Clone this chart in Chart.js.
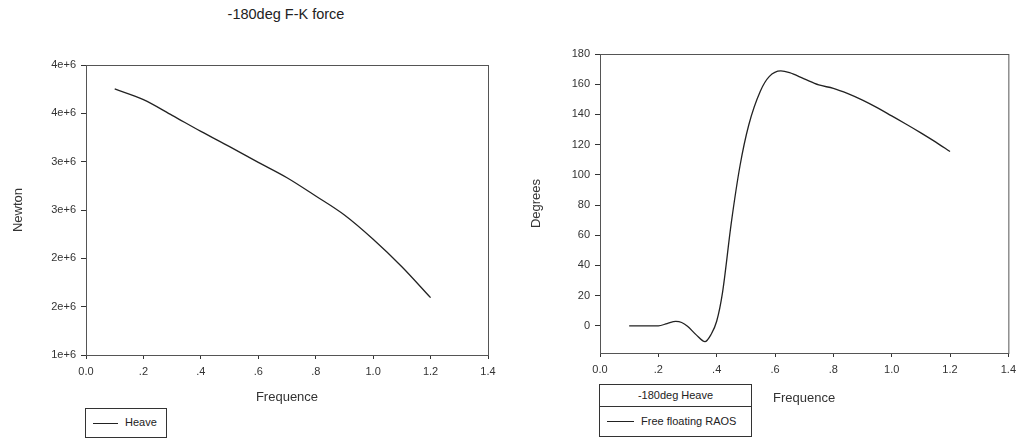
<!DOCTYPE html>
<html>
<head>
<meta charset="utf-8">
<script src="https://cdn.jsdelivr.net/npm/chart.js"></script>
<style>
  html, body { margin: 0; padding: 0; background: #fff; }
  body { width: 1022px; height: 441px; position: relative; overflow: hidden; font-family: "Liberation Sans", Arial, sans-serif; color: #222; }
  canvas { position: absolute; top: 0; }
  #title { position: absolute; left: 186px; width: 200px; top: 6px; text-align: center; font-size: 14.5px; }
  .lg { position: absolute; border: 1px solid #333; box-sizing: border-box; font-size: 11px; background: #fff; }
  .lg .ln { position: absolute; height: 0; border-top: 1px solid #222; }
  .lg span { position: absolute; }
</style>
</head>
<body>
<div id="title">-180deg F-K force</div>
<canvas id="left" width="510" height="441" style="left:0"></canvas>
<canvas id="right" width="512" height="441" style="left:510px"></canvas>

<div class="lg" style="left:85px; top:408px; width:82px; height:30px">
  <div class="ln" style="left:7px; width:25px; top:14px"></div>
  <span style="left:39px; top:7px">Heave</span>
</div>
<div class="lg" style="left:599px; top:384px; width:153px; height:23px; text-align:center; line-height:21px">-180deg Heave</div>
<div class="lg" style="left:599px; top:406px; width:153px; height:31px">
  <div class="ln" style="left:7px; width:27px; top:14px"></div>
  <span style="left:41px; top:8px">Free floating RAOS</span>
</div>

<script>
// left panel: F-K heave force
const freqL = [0.1, 0.2, 0.3, 0.4, 0.5, 0.6, 0.7, 0.8, 0.9, 1.0, 1.1, 1.2];
const heaveForce = [3.752e6, 3.641e6, 3.479e6, 3.313e6, 3.155e6, 2.993e6, 2.834e6, 2.645e6, 2.448e6, 2.197e6, 1.913e6, 1.593e6];

// right panel: free floating RAO phase
const freqR = [0.1, 0.15, 0.2, 0.23, 0.26, 0.28, 0.3, 0.33, 0.36, 0.38, 0.4, 0.42, 0.45, 0.48, 0.51, 0.55, 0.58, 0.62, 0.65, 0.7, 0.75, 0.8, 0.85, 0.9, 0.95, 1.0, 1.05, 1.1, 1.15, 1.2];
const raoPhase = [0, 0, 0, 1.5, 2.9, 2.2, -0.3, -6, -10.5, -6, 3, 22, 68, 106, 133, 155.5, 165, 168.8, 167.6, 163.5, 159.5, 157.3, 153.8, 149.5, 144.5, 139, 133.5, 127.8, 121.8, 115.4];

const axisColor = '#333';
const font11 = { family: 'Liberation Sans', size: 11 };
const font13 = { family: 'Liberation Sans', size: 13 };

const frame = {
  id: 'frame',
  afterDraw(chart) {
    const { ctx, chartArea: a } = chart;
    ctx.save();
    ctx.strokeStyle = '#555';
    ctx.lineWidth = 1;
    ctx.strokeRect(a.left + 0.5, a.top + 0.5, a.right - a.left, a.bottom - a.top);
    ctx.restore();
  }
};

// SigmaPlot style: "0.0", ".2", ".4" ... "1.0"
function freqLabel(v) {
  const s = Number(v).toFixed(1);
  return (s.startsWith('0.') && s !== '0.0') ? s.slice(1) : s;
}

function pts(xs, ys) { return xs.map((x, i) => ({ x, y: ys[i] })); }

function makeChart(id, data, pad, yw, xh, yOpts, yTitle) {
  return new Chart(document.getElementById(id), {
    type: 'line',
    data: { datasets: [{ data, borderColor: '#222', borderWidth: 1.3, pointRadius: 0, cubicInterpolationMode: 'monotone', fill: false }] },
    options: {
      responsive: false, animation: false,
      layout: { padding: pad },
      plugins: { legend: { display: false }, tooltip: { enabled: false } },
      scales: {
        x: {
          type: 'linear', min: 0, max: 1.4,
          ticks: { stepSize: 0.2, color: axisColor, font: font11, padding: 6, maxRotation: 0, callback: freqLabel },
          grid: { display: true, drawOnChartArea: false, tickLength: 4, color: axisColor },
          border: { display: true, color: axisColor },
          title: { display: true, text: 'Frequence', color: axisColor, font: font13, padding: 0 },
          afterFit(s) { s.height = xh; }
        },
        y: Object.assign({
          grid: { display: true, drawOnChartArea: false, tickLength: 5, color: axisColor },
          border: { display: true, color: axisColor },
          title: { display: true, text: yTitle, color: axisColor, font: font13, padding: 0 },
          afterFit(s) { s.width = yw; }
        }, yOpts)
      }
    },
    plugins: [frame]
  });
}

makeChart('left', pts(freqL, heaveForce), { left: 11, top: 65, right: 22, bottom: 36 }, 75, 50, {
  min: 1e6, max: 4e6,
  ticks: { stepSize: 5e5, color: axisColor, font: font11, padding: 5, callback: v => Number(v).toExponential(0) }
}, 'Newton');

makeChart('right', pts(freqR, raoPhase), { left: 19, top: 54, right: 13, bottom: 35 }, 71, 53, {
  min: -18, max: 180,
  ticks: { stepSize: 20, color: axisColor, font: font11, padding: 5 },
  afterBuildTicks(s) { s.ticks = s.ticks.filter(t => t.value >= 0); }
}, 'Degrees');
</script>
</body>
</html>
